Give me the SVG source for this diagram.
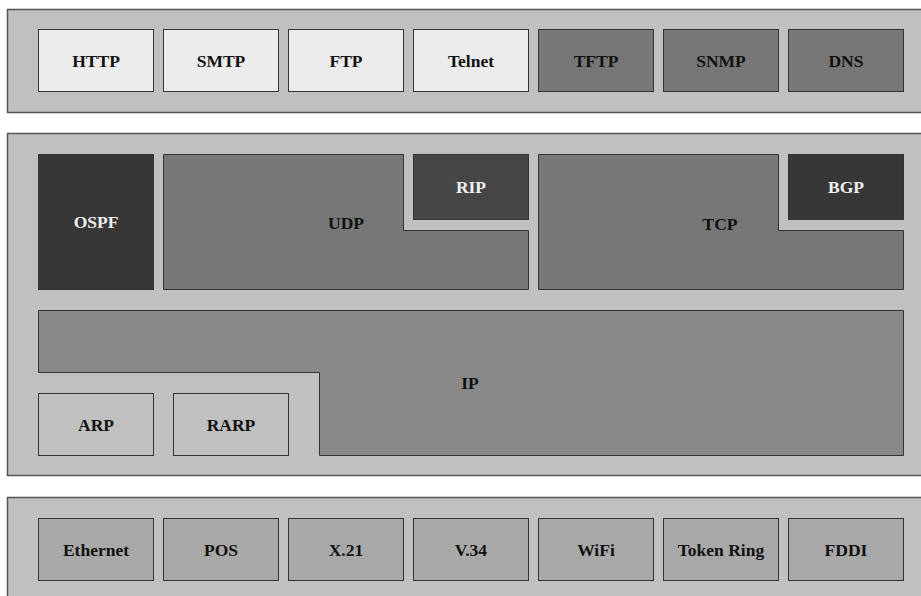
<svg xmlns="http://www.w3.org/2000/svg" width="921" height="596" viewBox="0 0 921 596">
<style>
.band{fill:#c0c0c0;stroke:#555;stroke-width:1.5}
.b{stroke:#333;stroke-width:1}
.light{fill:#ececec}
.mid{fill:#777}
.dark{fill:#373737}
.dark2{fill:#464646}
.ip{fill:#888}
.arp{fill:#c0c0c0}
.phy{fill:#a8a8a8}
text{font-family:"Liberation Serif","Times New Roman",serif;font-weight:bold;font-size:17.5px;text-anchor:middle;fill:#111}
text.w{fill:#f0f0f0}
</style>
<rect width="921" height="596" fill="#fff"/>
<g id="band-app"><rect class="band" x="7.5" y="9.5" width="920" height="103"/></g>
<g id="band-net"><rect class="band" x="7.5" y="133.5" width="920" height="342"/></g>
<g id="band-link"><rect class="band" x="7.5" y="497.5" width="920" height="110"/></g>

<g id="HTTP"><rect class="b light" x="38.5" y="29.5" width="115" height="62"/><text x="96" y="67">HTTP</text></g>
<g id="SMTP"><rect class="b light" x="163.5" y="29.5" width="115" height="62"/><text x="221" y="67">SMTP</text></g>
<g id="FTP"><rect class="b light" x="288.5" y="29.5" width="115" height="62"/><text x="346" y="67">FTP</text></g>
<g id="Telnet"><rect class="b light" x="413.5" y="29.5" width="115" height="62"/><text x="471" y="67">Telnet</text></g>
<g id="TFTP"><rect class="b mid" x="538.5" y="29.5" width="115" height="62"/><text x="596" y="67">TFTP</text></g>
<g id="SNMP"><rect class="b mid" x="663.5" y="29.5" width="115" height="62"/><text x="721" y="67">SNMP</text></g>
<g id="DNS"><rect class="b mid" x="788.5" y="29.5" width="115" height="62"/><text x="846" y="67">DNS</text></g>

<g id="OSPF"><rect class="b dark" x="38.5" y="154.5" width="115" height="135"/><text class="w" x="96" y="228">OSPF</text></g>
<g id="UDP"><path class="b mid" d="M163.5 154.5 H403.5 V230.5 H528.5 V289.5 H163.5 Z"/><text x="346" y="229">UDP</text></g>
<g id="RIP"><rect class="b dark2" x="413.5" y="154.5" width="115" height="65"/><text class="w" x="471" y="193">RIP</text></g>
<g id="TCP"><path class="b mid" d="M538.5 154.5 H778.5 V230.5 H903.5 V289.5 H538.5 Z"/><text x="720" y="230">TCP</text></g>
<g id="BGP"><rect class="b dark" x="788.5" y="154.5" width="115" height="65"/><text class="w" x="846" y="193">BGP</text></g>
<g id="IP"><path class="b ip" d="M38.5 310.5 H903.5 V455.5 H319.5 V372.5 H38.5 Z"/><text x="470" y="389">IP</text></g>
<g id="ARP"><rect class="b arp" x="38.5" y="393.5" width="115" height="62"/><text x="96" y="431">ARP</text></g>
<g id="RARP"><rect class="b arp" x="173.5" y="393.5" width="115" height="62"/><text x="231" y="431">RARP</text></g>

<g id="Ethernet"><rect class="b phy" x="38.5" y="518.5" width="115" height="62"/><text x="96" y="556">Ethernet</text></g>
<g id="POS"><rect class="b phy" x="163.5" y="518.5" width="115" height="62"/><text x="221" y="556">POS</text></g>
<g id="X21"><rect class="b phy" x="288.5" y="518.5" width="115" height="62"/><text x="346" y="556">X.21</text></g>
<g id="V34"><rect class="b phy" x="413.5" y="518.5" width="115" height="62"/><text x="471" y="556">V.34</text></g>
<g id="WiFi"><rect class="b phy" x="538.5" y="518.5" width="115" height="62"/><text x="596" y="556">WiFi</text></g>
<g id="TokenRing"><rect class="b phy" x="663.5" y="518.5" width="115" height="62"/><text x="721" y="556">Token Ring</text></g>
<g id="FDDI"><rect class="b phy" x="788.5" y="518.5" width="115" height="62"/><text x="846" y="556">FDDI</text></g>
<g id="connectors"></g>
</svg>
